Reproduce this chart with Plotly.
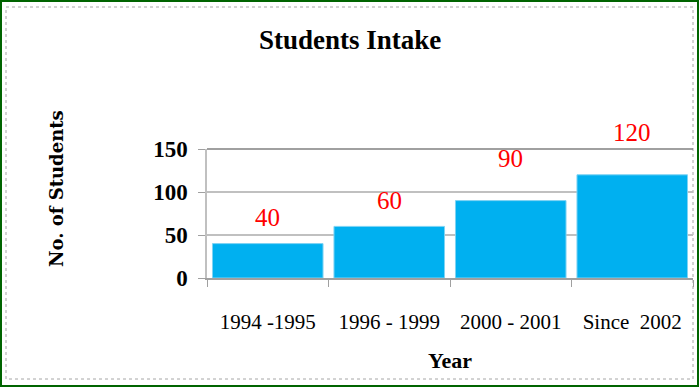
import plotly.graph_objects as go

categories = ["1994 -1995", "1996 - 1999", "2000 - 2001", "Since  2002"]
students = [40, 60, 90, 120]
label_lift = [26, 26, 42, 42]  # pixel lift of the value labels
y_ticks = [0, 50, 100, 150]

W, H = 700, 388
L, R, T, B = 207, 693, 149, 278
SERIF = "Liberation Serif, Times New Roman, serif"

def px(x):
    return (x - L) / (R - L)

def py(y):
    return (B - y) / (B - T)

fig = go.Figure()
fig.add_trace(go.Bar(
    x=categories, y=students,
    marker=dict(color="#00B0F0", line=dict(color="#7FD3F3", width=1)),
    width=0.91,
))

annotations = []
for c, v, lift in zip(categories, students, label_lift):
    annotations.append(dict(
        x=c, y=v, xref="x", yref="y", text=str(v), showarrow=False,
        yanchor="middle", yshift=lift,
        font=dict(family=SERIF, size=25, color="#FF0000"),
    ))

annotations += [
    dict(x=px(350), y=py(40), xref="paper", yref="paper", text="<b>Students Intake</b>",
         showarrow=False, xanchor="center", yanchor="middle",
         font=dict(family=SERIF, size=27, color="#000000")),
    dict(x=px(56), y=py(189), xref="paper", yref="paper", text="<b>No. of Students</b>",
         showarrow=False, xanchor="center", yanchor="middle", textangle=-90,
         font=dict(family="DejaVu Serif", size=18, color="#000000")),
    dict(x=px(450), y=py(360), xref="paper", yref="paper", text="<b>Year</b>",
         showarrow=False, xanchor="center", yanchor="middle",
         font=dict(family=SERIF, size=22, color="#000000")),
]

shapes = [
    # outer green frame
    dict(type="rect", xref="paper", yref="paper", x0=px(1), x1=px(698), y0=py(1), y1=py(386),
         line=dict(color="#006400", width=2), layer="below"),
    # inner gray frame
    dict(type="rect", xref="paper", yref="paper", x0=px(6), x1=px(693), y0=py(7), y1=py(379),
         line=dict(color="#A6A6A6", width=1, dash="dot"), layer="below"),
    # top plot border line
    dict(type="line", xref="paper", yref="paper", x0=0, x1=1, y0=1, y1=1,
         line=dict(color="#808080", width=1.5)),
]

fig.update_layout(
    width=W, height=H,
    margin=dict(l=L, r=W - R, t=T, b=H - B),
    paper_bgcolor="white", plot_bgcolor="white",
    showlegend=False,
    bargap=0.09,
    annotations=annotations,
    shapes=shapes,
    xaxis=dict(
        type="category", showgrid=False, showline=True, linecolor="#A0A0A0", linewidth=1.5,
        ticks="outside", tickson="boundaries", ticklen=7, tickcolor="#A0A0A0",
        ticklabelstandoff=24,
        tickfont=dict(family=SERIF, size=21, color="#000000"),
    ),
    yaxis=dict(
        range=[0, 150], tickvals=y_ticks, showgrid=True, gridcolor="#C0C0C0", gridwidth=1.5,
        showline=True, linecolor="#C0C0C0", linewidth=1.5, zeroline=False,
        ticks="outside", ticklen=7, tickcolor="#A0A0A0",
        ticklabelstandoff=6,
        tickfont=dict(family=SERIF, size=23, color="#000000", weight="bold"),
    ),
)

fig.write_html("out.html", config={"displayModeBar": False},
               post_script="document.body.style.margin='0';")
